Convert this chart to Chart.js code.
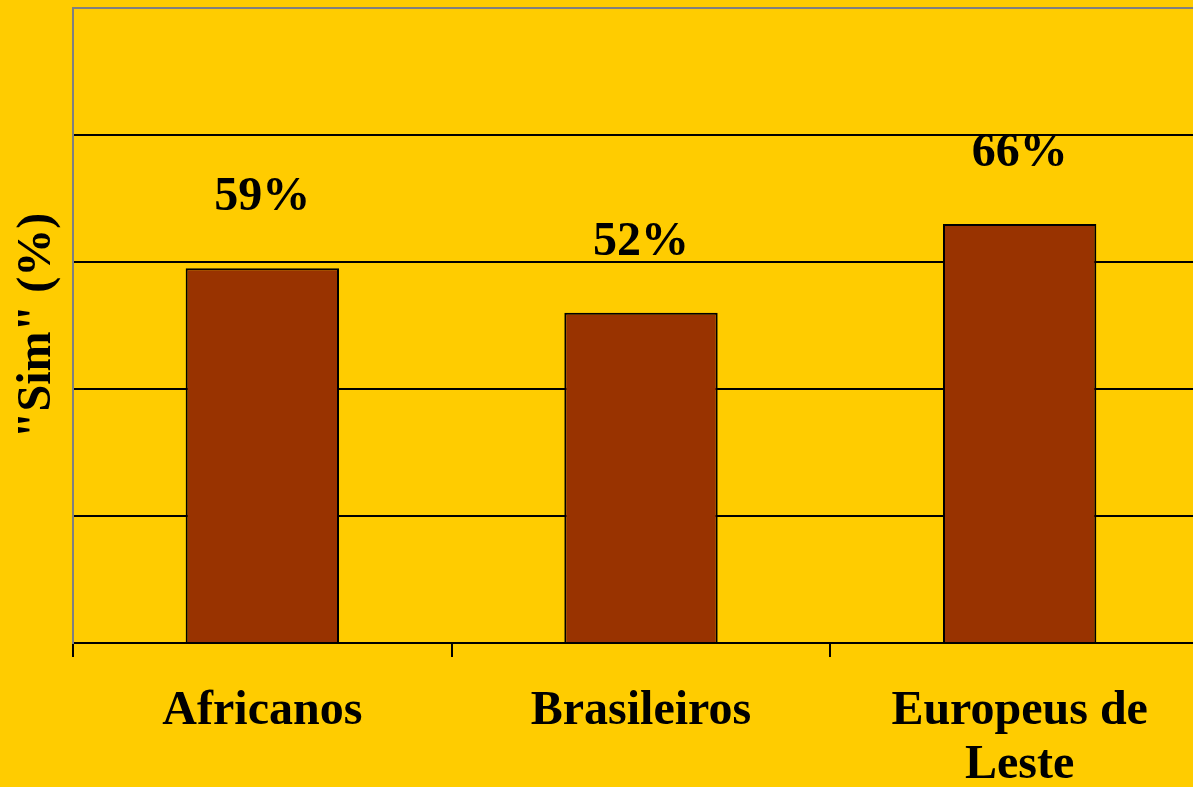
<!DOCTYPE html>
<html>
<head>
<meta charset="utf-8">
<script src="https://cdn.jsdelivr.net/npm/chart.js@4/dist/chart.umd.min.js"></script>
<style>
  html, body { margin:0; padding:0; background:#ffcc00; overflow:hidden; }
  canvas { display:block; }
</style>
</head>
<body>
<canvas id="simChart" width="1212" height="787"></canvas>
<script>
const categories = [['Africanos'], ['Brasileiros'], ['Europeus de', 'Leste']]
const simValues = [59, 52, 66]
const yTicks = [0, 20, 40, 60, 80, 100]

const serif = '"Liberation Serif", "Times New Roman", serif'

// draws the percent labels above each bar
const valueLabels = {
  id: 'valueLabels',
  afterDatasetsDraw(chart) {
    const ctx = chart.ctx
    const meta = chart.getDatasetMeta(0)
    ctx.save()
    ctx.font = 'bold 48px ' + serif
    ctx.fillStyle = '#000'
    ctx.textAlign = 'center'
    ctx.textBaseline = 'alphabetic'
    meta.data.forEach((bar, i) => {
      ctx.fillText(simValues[i] + '%', bar.x, bar.y - 58)
    })
    ctx.restore()
  }
}

new Chart(document.getElementById('simChart'), {
  type: 'bar',
  data: {
    labels: categories,
    datasets: [{
      data: simValues,
      backgroundColor: '#993300',
      borderColor: '#000',
      borderWidth: 2,
      categoryPercentage: 1,
      barPercentage: 0.405
    }]
  },
  options: {
    responsive: false,
    animation: false,
    layout: { padding: { top: 8, right: 3, left: 0, bottom: 0 } },
    plugins: { legend: { display: false }, tooltip: { enabled: false } },
    scales: {
      x: {
        grid: {
          offset: true,
          drawOnChartArea: false,
          drawTicks: true,
          tickLength: 14,
          color: '#000',
          lineWidth: 2
        },
        border: { color: '#000', width: 2 },
        ticks: {
          color: '#000',
          padding: 28,
          maxRotation: 0,
          autoSkip: false,
          font: { family: serif, size: 48, weight: 'bold', lineHeight: 1.12 }
        },
        afterFit(scale) { scale.height = 144 }
      },
      y: {
        min: yTicks[0],
        max: yTicks[yTicks.length - 1],
        afterBuildTicks(scale) { scale.ticks = yTicks.map(v => ({ value: v })) },
        ticks: { display: false },
        grid: {
          drawTicks: false,
          color: c => c.tick && c.tick.value === 100 ? '#808080' : '#000',
          lineWidth: 2
        },
        border: { color: '#808080', width: 2 },
        title: {
          display: true,
          text: '"Sim" (%)',
          color: '#000',
          padding: { top: 9, bottom: 0 },
          font: { family: serif, size: 48, weight: 'bold' }
        },
        afterFit(scale) { scale.width = 73 }
      }
    }
  },
  plugins: [valueLabels]
})
</script>
</body>
</html>
